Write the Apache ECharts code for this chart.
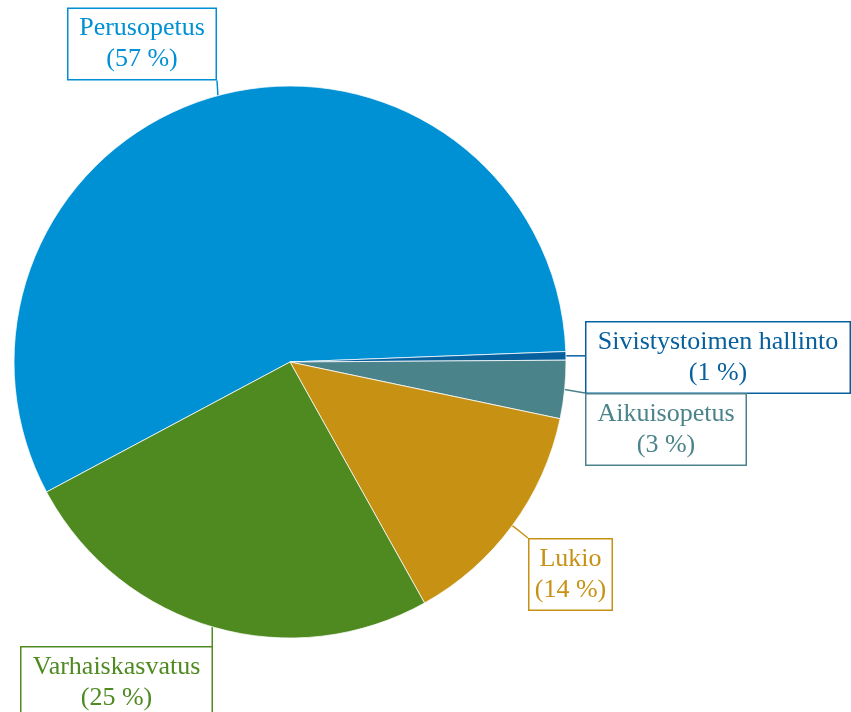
<!DOCTYPE html>
<html>
<head>
<meta charset="utf-8">
<script src="https://cdn.jsdelivr.net/npm/echarts@6/dist/echarts.min.js"></script>
<style>
html,body{margin:0;padding:0;background:#fff;}
#chart{width:851px;height:712px;}
</style>
</head>
<body>
<div id="chart"></div>
<script>
// Data (shares of spending, %)
const categories = ['Perusopetus', 'Sivistystoimen hallinto', 'Aikuisopetus', 'Lukio', 'Varhaiskasvatus'];
const shares = [57.2, 0.5, 3.4, 13.6, 25.3];

// Styling / layout (not data)
const colors = ['#0090d4', '#06609e', '#4b838b', '#c79114', '#4f8a21'];
const labelCenters = [[142, 44], [718, 357.5], [666, 429.5], [570.5, 574.5], [116.5, 682.5]];
const labelWidths = [139, 255, 151, 74, 182];

const chart = echarts.init(document.getElementById('chart'), null, {renderer: 'canvas'});

function nearestOnRect(p, r) {
  const x = Math.min(Math.max(p[0], r.x), r.x + r.width);
  const y = Math.min(Math.max(p[1], r.y), r.y + r.height);
  return [x, y];
}

const option = {
  animation: false,
  backgroundColor: '#ffffff',
  series: [{
    type: 'pie',
    center: [290, 362],
    radius: 276,
    startAngle: 208.1,
    clockwise: true,
    percentPrecision: 0,
    avoidLabelOverlap: false,
    emphasis: {disabled: true},
    itemStyle: {borderColor: 'rgba(255,255,255,0.75)', borderWidth: 1},
    label: {
      show: true,
      position: 'outer',
      formatter: '{b}\n({d} %)',
      fontFamily: '"Liberation Serif", "DejaVu Serif", serif',
      fontSize: 26,
      lineHeight: 31,
      align: 'center',
      overflow: 'none',
      backgroundColor: '#ffffff',
      borderWidth: 1.5,
      padding: [4, 4]
    },
    labelLine: {show: true, length: 0, length2: 0, lineStyle: {width: 1.5}},
    labelLayout: function (params) {
      const i = params.dataIndex;
      const c = labelCenters[i];
      const w = params.labelRect.width;
      const h = params.labelRect.height;
      const rect = {x: c[0] - w / 2, y: c[1] - h / 2, width: w, height: h};
      const p0 = params.labelLinePoints ? params.labelLinePoints[0] : [c[0], c[1]];
      const pe = nearestOnRect(p0, rect);
      const pm = [(p0[0] + pe[0]) / 2, (p0[1] + pe[1]) / 2];
      return {
        x: c[0],
        y: c[1],
        align: 'center',
        verticalAlign: 'middle',
        labelLinePoints: [p0, pm, pe]
      };
    },
    data: categories.map(function (name, i) {
      return {
        name: name,
        value: shares[i],
        itemStyle: {color: colors[i]},
        label: {color: colors[i], borderColor: colors[i], width: labelWidths[i]},
        labelLine: {lineStyle: {color: colors[i]}}
      };
    })
  }]
};
chart.setOption(option);
</script>
</body>
</html>
